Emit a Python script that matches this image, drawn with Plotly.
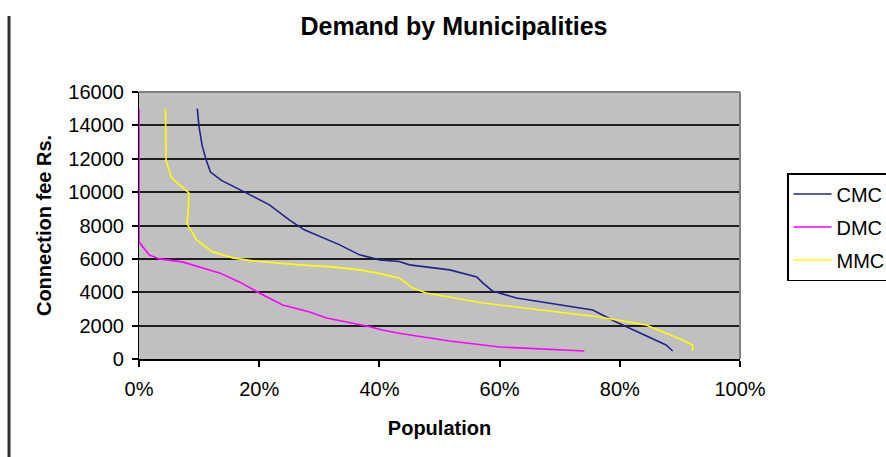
import plotly.graph_objects as go

# Data (x = share of population, y = connection fee Rs.)
cmc_x = [0.097, 0.100, 0.105, 0.112, 0.119, 0.137, 0.176, 0.217, 0.250, 0.267, 0.275,
         0.334, 0.367, 0.400, 0.433, 0.450, 0.517, 0.562, 0.572, 0.588, 0.628, 0.755,
         0.794, 0.877, 0.888]
cmc_y = [15000, 13900, 12800, 11900, 11200, 10700, 10000, 9240, 8340, 7900, 7740,
         6840, 6240, 5940, 5840, 5640, 5340, 4920, 4560, 4080, 3660, 2940,
         2220, 840, 480]

dmc_x = [0.000, 0.000, 0.017, 0.034, 0.072, 0.100, 0.134, 0.167, 0.200, 0.239, 0.284,
         0.312, 0.355, 0.379, 0.405, 0.433, 0.462, 0.517, 0.600, 0.741]
dmc_y = [15000, 7020, 6240, 6000, 5820, 5520, 5160, 4620, 3960, 3240, 2820,
         2460, 2160, 1980, 1740, 1540, 1380, 1080, 720, 480]

mmc_x = [0.044, 0.045, 0.054, 0.067, 0.083, 0.082, 0.080, 0.096, 0.122, 0.156, 0.189,
         0.267, 0.322, 0.367, 0.395, 0.433, 0.455, 0.478, 0.517, 0.572, 0.766, 0.844,
         0.904, 0.921, 0.921]
mmc_y = [15000, 11900, 10860, 10440, 9960, 8940, 8100, 7140, 6420, 6060, 5880,
         5640, 5520, 5340, 5160, 4860, 4260, 3960, 3720, 3360, 2520, 2040,
         1140, 840, 480]

series_names = ["CMC", "DMC", "MMC"]
series_colors = ["#22228a", "#ff00ff", "#ffff00"]

x_ticks = [0, 0.2, 0.4, 0.6, 0.8, 1.0]
y_ticks = [0, 2000, 4000, 6000, 8000, 10000, 12000, 14000, 16000]

FONT = "Liberation Sans, Arial, sans-serif"

fig = go.Figure()
for name, xs, ys, col in zip(series_names, [cmc_x, dmc_x, mmc_x], [cmc_y, dmc_y, mmc_y], series_colors):
    fig.add_trace(go.Scatter(x=xs, y=ys, mode="lines", name=name, legendgroup=name,
                             line=dict(color=col, width=1.6)))

fig.update_layout(
    width=886, height=457,
    margin=dict(l=139, r=146, t=92, b=98, autoexpand=False),
    paper_bgcolor="white",
    plot_bgcolor="#c0c0c0",
    font=dict(family=FONT, color="black", size=20),
    title=dict(text="<b>Demand by Municipalities</b>", x=454 / 886, xanchor="center",
               y=1 - 26 / 457, yanchor="middle", xref="container", yref="container",
               font=dict(size=25, family=FONT, color="black")),
    showlegend=True,
    legend=dict(x=(787 - 139) / 601, y=(359 - 173) / 267, xanchor="left", yanchor="top",
                bgcolor="white", bordercolor="black", borderwidth=1.5,
                font=dict(size=20, family=FONT), itemwidth=38, tracegroupgap=4,
                traceorder="grouped"),
    xaxis=dict(range=[0, 1], tickvals=x_ticks, tickformat=".0%", showgrid=False,
               zeroline=False, showline=True, linecolor="black", linewidth=1.5,
               ticks="outside", ticklen=6, tickcolor="black", tickwidth=1.5,
               ticklabelstandoff=5, layer="below traces",
               title=dict(text="<b>Population</b>", font=dict(size=20, family=FONT), standoff=22)),
    yaxis=dict(range=[0, 16000], tickvals=y_ticks, tickformat="d", showgrid=True,
               gridcolor="#1e1e1e", gridwidth=1.5, zeroline=False, showline=True,
               linecolor="black", linewidth=1.2,
               ticks="outside", ticklen=6, tickcolor="black", tickwidth=1.5,
               ticklabelstandoff=4, layer="below traces",
               title=dict(text="<b>Connection fee Rs.</b>", font=dict(size=20, family=FONT), standoff=11)),
)

# gray frame on top and right of the plot area
fig.add_shape(type="line", xref="paper", yref="paper", x0=0, x1=1, y0=1, y1=1,
              line=dict(color="#808080", width=2), layer="above")
fig.add_shape(type="line", xref="paper", yref="paper", x0=1, x1=1, y0=0, y1=1,
              line=dict(color="#808080", width=2), layer="above")
# page border line at the left edge
fig.add_shape(type="line", xref="paper", yref="paper",
              x0=(9 - 139) / 601, x1=(9 - 139) / 601, y0=(359 - 457) / 267, y1=(359 - 16) / 267,
              line=dict(color="#303030", width=3), layer="above")

fig.write_html("out.html")
